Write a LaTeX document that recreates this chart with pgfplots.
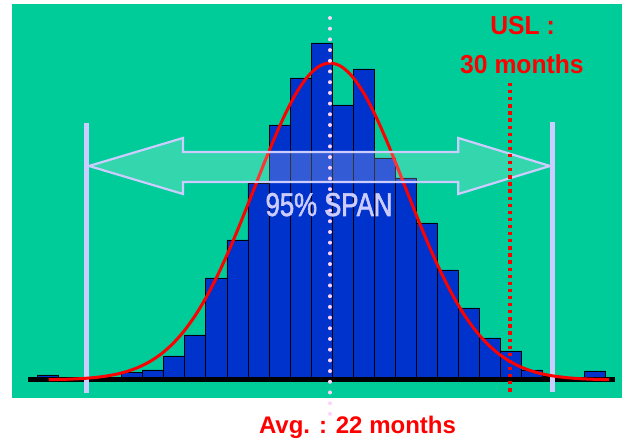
\documentclass[border=0pt]{standalone}
\usepackage{pgfplots}
\pgfplotsset{compat=1.18}
\usepackage{fontspec}
\setmainfont{Liberation Sans}
\newfontfamily\spanfont[FakeStretch=0.78,FakeBold=1.6]{Liberation Sans}
\newfontfamily\uslfont[FakeStretch=0.95]{Liberation Sans}
\definecolor{bggreen}{RGB}{0,204,153}
\definecolor{barblue}{RGB}{0,51,204}
\definecolor{lav}{RGB}{204,204,255}
\definecolor{dotpink}{RGB}{255,210,255}
\begin{document}
\begin{tikzpicture}
\fill[white] (0,0) rectangle (622pt,443pt);
\useasboundingbox (0,0) rectangle (622pt,443pt);
\begin{axis}[at={(12pt,45pt)}, anchor=south west, scale only axis,
  width=610pt, height=394pt,
  xmin=7.867, xmax=34.978, ymin=-18, ymax=376,
  axis background/.style={fill=bggreen},
  axis line style={draw=none}, xtick=\empty, ytick=\empty, clip=false]
% histogram
\addplot[ybar, bar width=0.9356, bar shift=0pt, fill=barblue, draw=black, line width=0.8pt]
 coordinates {(9.466,5) (13.208,7.5) (14.144,10) (15.079,24) (16.015,45) (16.951,102)
 (17.886,140) (18.822,197) (19.757,255) (20.693,302) (21.628,337) (22.564,275)
 (23.500,311) (24.435,222) (25.371,202) (26.306,157) (27.242,110) (28.177,72)
 (29.113,42) (30.049,29) (30.984,10) (31.920,4) (33.791,9)};
% baseline
\addplot[black, line width=5pt, no marks] coordinates {(8.578,0) (34.667,0)};
% span limits
\addplot[lav, line width=5pt, no marks] coordinates {(11.2,257) (11.2,-13)};
\addplot[lav, line width=5pt, no marks] coordinates {(31.867,258) (31.867,-12)};
% normal curve
\addplot[red, line width=3pt, smooth, no marks] coordinates {
 (9.5,0.31) (10,0.54) (10.5,0.89) (11,1.47) (11.5,2.37) (12,3.74) (12.5,5.77)
 (13,8.70) (13.5,12.83) (14,18.50) (14.5,26.10) (15,36.0) (15.5,48.6) (16,64.1)
 (16.5,82.8) (17,104.5) (17.5,129.0) (18,155.8) (18.5,184.0) (19,212.6) (19.5,240.2)
 (20,265.4) (20.5,286.9) (21,303.2) (21.5,313.5) (22,317) (22.5,313.5) (23,303.2)
 (23.5,286.9) (24,265.4) (24.5,240.2) (25,212.6) (25.5,184.0) (26,155.8) (26.5,129.0)
 (27,104.5) (27.5,82.8) (28,64.1) (28.5,48.6) (29,36.0) (29.5,26.1) (30,18.5)
 (30.5,12.83) (31,8.70) (31.5,5.77) (32,3.74) (32.5,2.37) (33,1.47) (33.5,0.89)
 (34,0.53) (34.4,0.34)};
% double arrow
\draw[lav, line width=2.2pt, fill=white, fill opacity=0.2, line join=miter]
 (11.289,214) -- (15.467,242) -- (15.467,228) -- (27.702,228) -- (27.702,242)
 -- (31.778,214) -- (27.702,186) -- (27.702,198) -- (15.467,198) -- (15.467,186) -- cycle;
% USL dotted line
\addplot[red, line width=3.3pt, dash pattern=on 3.3pt off 3.8pt, no marks]
 coordinates {(30,297) (30,-12)};
% average dotted line
\addplot[dotpink, line width=4pt, line cap=round, dash pattern=on 0pt off 10.7pt, no marks]
 coordinates {(22,362) (22,-37)};
% texts
\node[anchor=base, text=lav, font=\spanfont\fontsize{33}{36}\selectfont] at (21.956,164) {95\% SPAN};
\node[anchor=base, text=red, font=\uslfont\bfseries\fontsize{26}{30}\selectfont] at (30.556,345) {USL :};
\node[anchor=base, text=red, font=\uslfont\bfseries\fontsize{26}{30}\selectfont] at (30.533,306.7) {30 months};
\node[anchor=base, text=red, font=\bfseries\fontsize{24}{28}\selectfont] at (23.222,-54) {Avg. : 22 months};
\end{axis}
\end{tikzpicture}
\end{document}
